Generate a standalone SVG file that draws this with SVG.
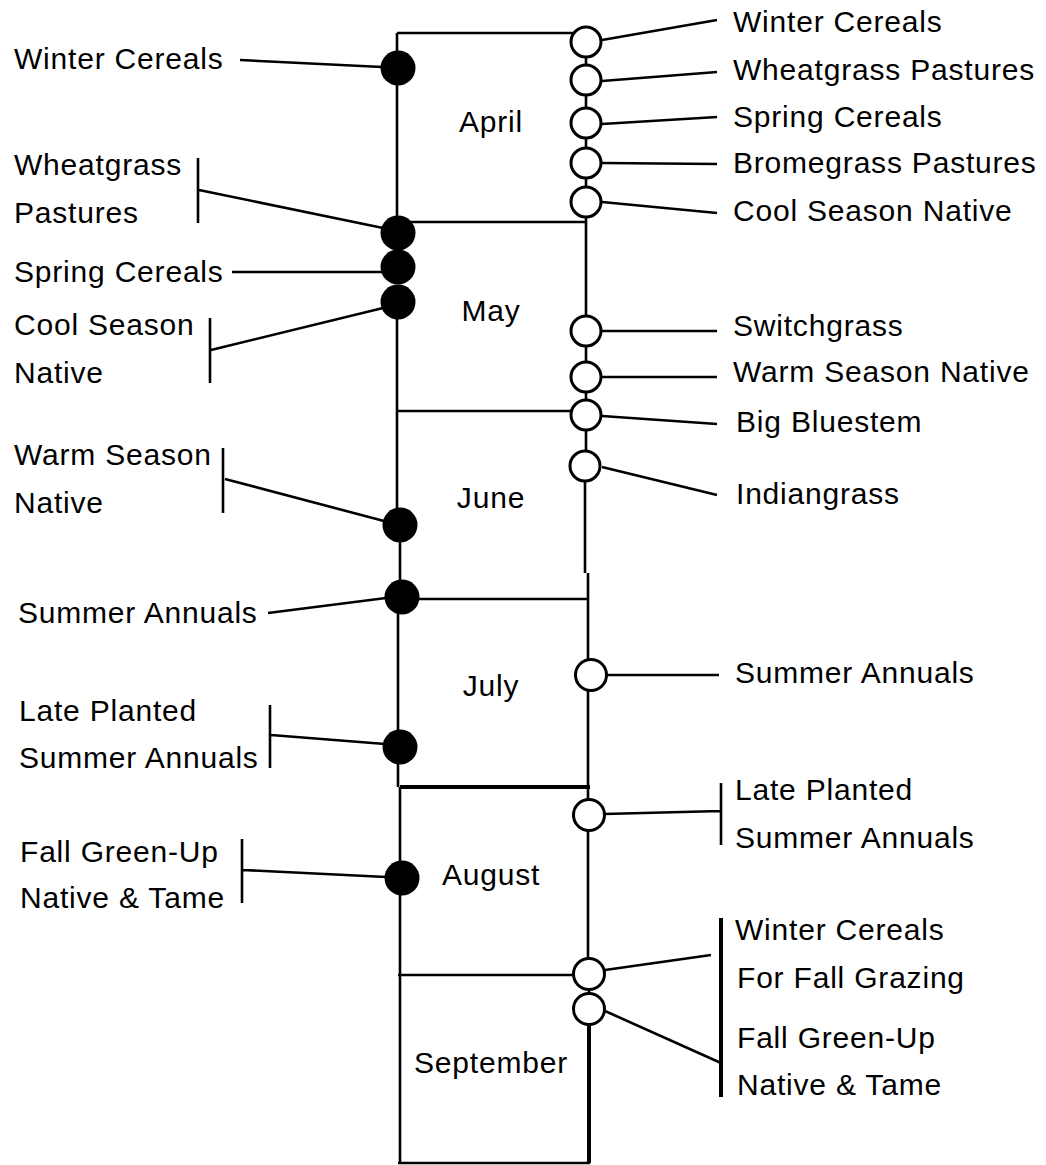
<svg xmlns="http://www.w3.org/2000/svg" width="1046" height="1165" viewBox="0 0 1046 1165">
<style>
text{font-family:"Liberation Sans",Arial,sans-serif;font-size:30px;fill:#000;letter-spacing:0.8px}
.m{text-anchor:middle}
.f{fill:#000;stroke:none}
.o{fill:#fff;stroke:#000;stroke-width:3}
.ln{stroke:#000;stroke-width:2.6;fill:none}
.th{stroke:#000;stroke-width:4;fill:none}
</style>
<rect width="1046" height="1165" fill="#fff"/>
<g id="frame">
<path class="ln" d="M397,33H573 M397,33V216 M397,222H585 M586,218V315 M397,302V508 M397,411H571 M586,347V361 M586,393V399 M586,431V451 M585,481V573 M400,542V580 M588,573V659 M400,599H588 M588,691V787 M398,614V730 M398,764V787 M400,787V861 M588,787V799 M588,831V958 M398,975H573 M400,895V1163 M398,1163H590 M589,990V993"/>
<path class="th" d="M400,787H590 M589,1025V1163"/>
<path class="ln" d="M586,58V64 M586,96V107 M586,139V147 M586,179V186"/>
</g>
<g id="month-april"><text class="m" x="491" y="132">April</text></g>
<g id="month-may"><text class="m" x="491" y="321">May</text></g>
<g id="month-june"><text class="m" x="491" y="508">June</text></g>
<g id="month-july"><text class="m" x="491" y="696">July</text></g>
<g id="month-august"><text class="m" x="491" y="885">August</text></g>
<g id="month-september"><text class="m" x="491" y="1073">September</text></g>

<g id="connectors">
<path class="ln" d="M240,60L382,67"/>
<path class="ln" d="M198,158V223 M199,190L383,228"/>
<path class="ln" d="M232,272H383"/>
<path class="ln" d="M210,318V383 M211,350L383,308"/>
<path class="ln" d="M223,448V513 M225,479L384,521"/>
<path class="ln" d="M268,613L386,598"/>
<path class="ln" d="M270,705V768 M271,735L385,744"/>
<path class="ln" d="M242,839V903 M243,870L386,877"/>
<path class="ln" d="M602,40L717,20"/>
<path class="ln" d="M602,81L717,72"/>
<path class="ln" d="M602,124L717,117"/>
<path class="ln" d="M602,163L717,164"/>
<path class="ln" d="M602,202L717,213"/>
<path class="ln" d="M602,331H717"/>
<path class="ln" d="M602,377H717"/>
<path class="ln" d="M602,416L717,424"/>
<path class="ln" d="M602,467L717,495"/>
<path class="ln" d="M607,675H719"/>
<path class="ln" d="M721,783V845 M604,814L721,811"/>
<path class="ln" d="M605,970L711,955"/>
<path class="ln" d="M605,1011L721,1063"/>
<path class="th" d="M721,918V1097"/>
</g>

<g id="l-winter-cereals"><circle class="f" cx="398" cy="68" r="17.5"/><text x="14" y="69">Winter  Cereals</text></g>
<g id="l-wheatgrass"><circle class="f" cx="398" cy="233" r="17.5"/><text x="14" y="175">Wheatgrass</text><text x="14" y="223">Pastures</text></g>
<g id="l-spring-cereals"><circle class="f" cx="398" cy="267" r="17.5"/><text x="14" y="282">Spring Cereals</text></g>
<g id="l-cool-season"><circle class="f" cx="398" cy="302" r="17.5"/><text x="14" y="335">Cool Season</text><text x="14" y="383">Native</text></g>
<g id="l-warm-season"><circle class="f" cx="400" cy="525" r="17.5"/><text x="14" y="465">Warm Season</text><text x="14" y="513">Native</text></g>
<g id="l-summer-annuals"><circle class="f" cx="402" cy="597" r="17.5"/><text x="18" y="623">Summer Annuals</text></g>
<g id="l-late-planted"><circle class="f" cx="400" cy="747" r="17.5"/><text x="19" y="721">Late Planted</text><text x="19" y="768">Summer  Annuals</text></g>
<g id="l-fall-green-up"><circle class="f" cx="402" cy="878" r="17.5"/><text x="20" y="862">Fall  Green-Up</text><text x="20" y="908">Native &amp; Tame</text></g>

<g id="r-winter-cereals"><circle class="o" cx="586" cy="42" r="15"/><text x="733" y="32">Winter  Cereals</text></g>
<g id="r-wheatgrass"><circle class="o" cx="586" cy="80" r="15"/><text x="733" y="80">Wheatgrass  Pastures</text></g>
<g id="r-spring-cereals"><circle class="o" cx="586" cy="123" r="15"/><text x="733" y="127">Spring  Cereals</text></g>
<g id="r-bromegrass"><circle class="o" cx="586" cy="163" r="15"/><text x="733" y="173">Bromegrass  Pastures</text></g>
<g id="r-cool-season"><circle class="o" cx="586" cy="202" r="15"/><text x="733" y="221">Cool  Season  Native</text></g>
<g id="r-switchgrass"><circle class="o" cx="586" cy="331" r="15"/><text x="733" y="336">Switchgrass</text></g>
<g id="r-warm-season"><circle class="o" cx="586" cy="377" r="15"/><text x="733" y="382">Warm  Season  Native</text></g>
<g id="r-big-bluestem"><circle class="o" cx="586" cy="415" r="15"/><text x="736" y="432">Big Bluestem</text></g>
<g id="r-indiangrass"><circle class="o" cx="585" cy="466" r="15"/><text x="736" y="504">Indiangrass</text></g>
<g id="r-summer-annuals"><circle class="o" cx="591" cy="675" r="15.5"/><text x="735" y="683">Summer  Annuals</text></g>
<g id="r-late-planted"><circle class="o" cx="589" cy="815" r="15.5"/><text x="735" y="800">Late Planted</text><text x="735" y="848">Summer  Annuals</text></g>
<g id="r-winter-cereals-fall"><circle class="o" cx="589" cy="974" r="15.5"/><text x="735" y="940">Winter  Cereals</text><text x="737" y="988">For Fall Grazing</text></g>
<g id="r-fall-green-up"><circle class="o" cx="589" cy="1009" r="15.5"/><text x="737" y="1048">Fall  Green-Up</text><text x="737" y="1095">Native  &amp;  Tame</text></g>
</svg>
